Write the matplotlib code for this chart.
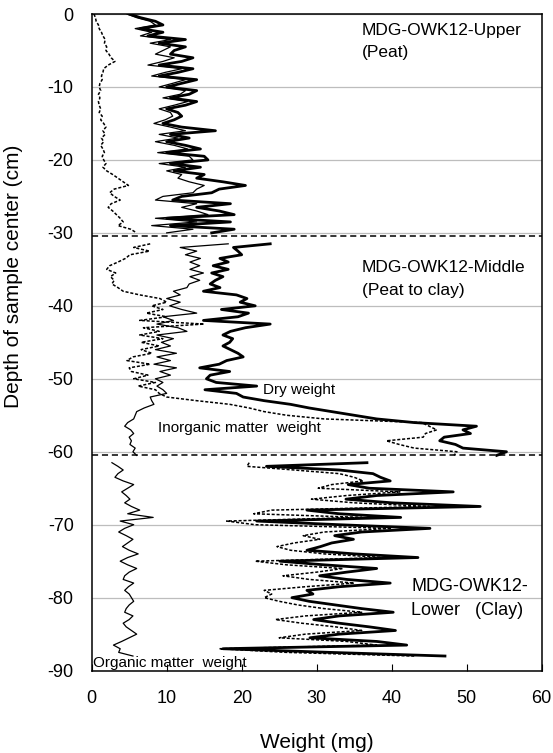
import numpy as np
import matplotlib
matplotlib.use('Agg')
import matplotlib.pyplot as plt

plt.rcParams['font.family'] = ['Liberation Sans', 'DejaVu Sans']
plt.rcParams['axes.unicode_minus'] = False

# depth of sample centre (cm), one array per section
upper_depth = np.arange(0, 30.25, 0.5)
middle_depth = np.arange(31.5, 60.75, 0.5)
lower_depth = np.arange(61.5, 88.25, 0.5)

# weights (mg)
upper_dry = [5.0, 6.5, 8.5, 9.5, 6.5, 9.5, 7.5, 12.5, 9.0, 12.5,
             11.0, 10.5, 13.5, 12.0, 9.0, 13.5, 11.5, 9.0, 14.0, 12.0,
             10.0, 14.0, 13.0, 10.5, 14.0, 12.5, 10.0, 11.5, 12.0, 11.0,
             9.5, 12.0, 16.5, 10.5, 13.0, 10.0, 12.5, 14.5, 10.0, 15.0,
             15.5, 10.5, 14.5, 11.0, 15.0, 14.0, 17.5, 20.5, 17.0, 16.0,
             12.0, 10.8, 18.5, 14.0, 17.0, 19.0, 10.0, 18.5, 10.5, 19.0,
             16.0]
upper_inorg = [0.3, 0.5, 0.6, 0.9, 1.0, 1.3, 1.5, 1.8, 1.7, 2.0,
               1.9, 2.3, 2.6, 3.1, 2.2, 1.6, 1.5, 1.3, 1.4, 1.1,
               1.0, 1.2, 0.9, 1.1, 0.9, 1.0, 1.2, 1.0, 1.4, 1.2,
               1.6, 1.9, 1.5, 1.8, 1.3, 1.6, 1.2, 1.5, 1.7, 1.4,
               1.6, 1.9, 1.5, 2.0, 2.8, 3.5, 4.2, 4.9, 3.0, 2.4,
               3.0, 3.8, 2.6, 2.2, 2.8, 3.3, 3.8, 4.2, 3.5, 5.2,
               6.0]
upper_org = [4.7, 6.0, 7.8, 8.5, 5.8, 8.0, 6.5, 10.5, 7.8, 10.5,
             9.5, 8.5, 11.0, 9.5, 7.5, 12.0, 9.8, 8.0, 12.5, 10.8,
             9.0, 12.5, 11.8, 9.5, 12.8, 11.0, 9.0, 10.5, 10.8, 9.8,
             8.3, 10.5, 12.5, 9.0, 11.5, 8.5, 11.0, 12.8, 8.8, 13.0,
             13.5, 9.0, 12.5, 10.0, 12.0, 11.5, 13.0, 15.0, 14.0, 13.5,
             9.5, 8.5, 14.0, 12.0, 14.0, 15.5, 8.5, 14.0, 8.0, 13.5,
             10.0]

middle_dry = [23.8, 18.9, 19.5, 20.0, 17.1, 18.2, 16.2, 18.2, 16.0, 17.5,
              16.5, 15.8, 17.1, 14.9, 19.3, 20.7, 19.8, 21.8, 17.3, 20.9,
              19.5, 14.9, 23.8, 20.5, 18.5, 17.5, 18.8, 18.4, 17.5, 18.5,
              19.5, 20.2, 18.0, 17.0, 14.4, 18.4, 15.8, 15.3, 16.6, 22.0,
              15.1, 19.3, 20.2, 23.0, 26.5, 29.0, 32.0, 35.0, 38.0, 43.0,
              51.3, 49.5, 50.5, 47.0, 46.4, 48.5, 49.5, 55.3, 54.0]
middle_inorg = [7.8, 5.6, 7.7, 5.1, 4.5, 3.5, 2.4, 2.0, 3.2, 2.5,
                3.0, 2.7, 3.5, 4.2, 6.4, 9.1, 10.0, 8.0, 9.5, 7.3,
                10.0, 6.4, 15.0, 6.9, 9.0, 6.4, 9.5, 6.6, 9.0, 6.6,
                8.0, 5.5, 4.7, 7.8, 5.0, 5.3, 7.5, 5.6, 8.5, 6.2,
                8.5, 9.0, 10.0, 14.0, 18.4, 21.0, 23.0, 26.0, 31.0, 44.0,
                45.0, 46.0, 44.5, 44.2, 39.3, 41.0, 43.0, 48.7, 48.3]
middle_org = [18.2, 11.8, 14.0, 12.5, 14.5, 13.1, 14.4, 13.1, 14.9, 13.1,
              14.4, 13.0, 12.7, 10.9, 11.8, 10.0, 11.8, 10.4, 12.0, 14.0,
              9.5, 10.9, 8.7, 11.5, 12.7, 8.7, 10.9, 9.3, 10.5, 8.5,
              11.3, 8.7, 10.5, 8.3, 11.3, 9.1, 10.5, 8.5, 9.5, 8.7,
              9.5, 10.0, 7.8, 8.0, 8.3, 7.0, 6.0, 5.8, 5.6, 4.8,
              4.4, 5.2, 5.6, 5.0, 5.3, 5.1, 5.8, 5.5, 6.0]

lower_dry = [36.7, 23.3, 33.0, 37.5, 38.5, 39.8, 34.2, 37.0, 48.2, 38.0,
             33.9, 40.0, 51.8, 28.7, 33.0, 41.2, 22.0, 33.0, 45.1, 36.0,
             32.4, 34.9, 32.0, 30.5, 28.7, 35.0, 43.5, 25.1, 31.0, 38.0,
             34.0, 30.4, 34.0, 39.8, 33.0, 28.7, 29.5, 26.7, 29.0, 32.5,
             36.0, 40.2, 33.0, 29.6, 33.0, 37.0, 40.5, 33.0, 29.1, 38.0,
             42.0, 17.5, 31.8, 47.1]
lower_inorg = [21.0, 20.7, 27.0, 33.0, 35.0, 36.2, 32.0, 30.2, 41.1, 34.0,
               29.3, 35.0, 45.0, 24.0, 21.6, 36.0, 18.0, 21.8, 40.0, 31.0,
               28.2, 30.4, 27.0, 24.7, 26.5, 31.0, 39.0, 21.8, 26.0, 33.5,
               30.0, 25.5, 29.0, 35.0, 28.5, 23.0, 24.0, 23.0, 25.0, 27.5,
               31.0, 36.0, 28.5, 24.5, 28.0, 32.5, 36.0, 28.5, 25.0, 34.0,
               38.0, 17.0, 26.0, 43.0]
lower_org = [2.7, 3.5, 4.2, 3.5, 3.1, 4.2, 5.6, 4.8, 4.0, 4.6,
             5.1, 4.4, 5.3, 6.4, 4.8, 8.2, 3.8, 5.6, 4.4, 3.6,
             4.6, 5.5, 4.8, 4.1, 5.0, 6.2, 4.8, 3.8, 4.8, 6.0,
             5.0, 4.4, 4.2, 5.6, 4.9, 4.4, 5.0, 5.3, 5.6, 5.0,
             4.6, 4.4, 5.5, 5.0, 4.2, 4.6, 5.3, 6.0, 5.0, 4.0,
             2.9, 3.8, 3.6, 5.5]

boundaries = [-30.4, -60.5]

fig = plt.figure(figsize=(5.53, 7.53), dpi=100)
ax = fig.add_axes([0.1658, 0.1094, 0.8138, 0.872])

sections = [(upper_depth, upper_dry, upper_inorg, upper_org),
            (middle_depth, middle_dry, middle_inorg, middle_org),
            (lower_depth, lower_dry, lower_inorg, lower_org)]
for depth, dry, inorg, org in sections:
    ax.plot(inorg, -depth, color='black', lw=1.1, linestyle=(0, (2, 1.2)))
    ax.plot(org, -depth, color='black', lw=0.9)
    ax.plot(dry, -depth, color='black', lw=2.0)

for b in boundaries:
    ax.axhline(b, color='black', lw=1.1, linestyle=(0, (4, 2.5)))

ax.set_xlim(0, 60)
ax.set_ylim(-90, 0)
ax.set_xticks(range(0, 61, 10))
ax.set_yticks(range(-90, 1, 10))
ax.grid(axis='y', color='#bdbdbd', lw=0.9)
ax.set_axisbelow(True)
ax.tick_params(axis='x', direction='in', length=5, labelsize=13, pad=14)
ax.tick_params(axis='y', length=0, labelsize=13, pad=13)
for s in ax.spines.values():
    s.set_linewidth(1.1)

ax.set_xlabel('Weight (mg)', fontsize=15)
ax.xaxis.set_label_coords(0.5, -0.095)
ax.set_ylabel('Depth of sample center (cm)', fontsize=15)
ax.yaxis.set_label_coords(-0.152, 0.6)

ax.text(36.0, -2.2, 'MDG-OWK12-Upper', fontsize=12.5, va='center')
ax.text(36.0, -5.3, '(Peat)', fontsize=12.5, va='center')
ax.text(36.0, -34.8, 'MDG-OWK12-Middle', fontsize=12.5, va='center')
ax.text(36.0, -37.9, '(Peat to clay)', fontsize=12.5, va='center')
ax.text(42.6, -78.5, 'MDG-OWK12-', fontsize=13, va='center')
ax.text(42.6, -81.8, 'Lower   (Clay)', fontsize=13, va='center')
ax.text(22.9, -51.6, 'Dry weight', fontsize=11, va='center')
ax.text(8.9, -56.8, 'Inorganic matter  weight', fontsize=11, va='center')
ax.text(0.2, -88.9, 'Organic matter  weight', fontsize=11, va='center')

fig.savefig('out.png', dpi=100)
